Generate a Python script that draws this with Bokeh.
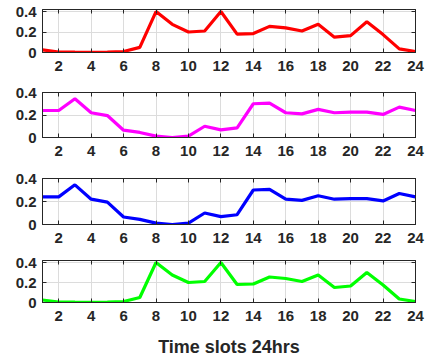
from bokeh.plotting import figure
from bokeh.layouts import column
from bokeh.models import FixedTicker, Range1d, LinearAxis
from bokeh.embed import file_html
from bokeh.resources import INLINE

hours = list(range(1, 25))
x_ticks = list(range(2, 25, 2))
y_ticks = [0, 0.2, 0.4]
y_tick_labels = ["0", "0.2", "0.4"]

series_a = [0.025, 0.005, 0.003, 0.002, 0.005, 0.01, 0.05, 0.40, 0.275, 0.20,
            0.21, 0.40, 0.18, 0.185, 0.255, 0.24, 0.21, 0.275, 0.15, 0.165,
            0.30, 0.175, 0.035, 0.01]
series_b = [0.24, 0.24, 0.345, 0.22, 0.195, 0.065, 0.045, 0.012, 0.0, 0.012,
            0.10, 0.068, 0.085, 0.30, 0.305, 0.22, 0.21, 0.25, 0.22, 0.225,
            0.225, 0.205, 0.27, 0.24]

panels = [
    (series_a, "#ff0000", 0.42),
    (series_b, "#ff00ff", 0.40),
    (series_b, "#0000ff", 0.40),
    (series_a, "#00ff00", 0.42),
]
frame_h = [43, 45, 46, 42]
tops = [9, 8, 9, 6]
bottoms = [32, 32, 30, 56]

TXT = "#262626"
FONT = "Liberation Sans"


def style_ticks(ax):
    ax.major_tick_in = 4
    ax.major_tick_out = 0
    ax.minor_tick_in = 0
    ax.minor_tick_out = 0
    ax.major_tick_line_color = TXT
    ax.axis_line_color = TXT


figs = []
for i, (ys, col, ymax) in enumerate(panels):
    p = figure(frame_width=373, frame_height=frame_h[i], output_backend="svg",
               toolbar_location=None, min_border_left=42, min_border_right=12,
               min_border_top=tops[i], min_border_bottom=bottoms[i],
               x_range=Range1d(1, 24), y_range=Range1d(0, ymax))
    p.line(hours, ys, line_color=col, line_width=3.2)
    p.outline_line_color = TXT
    p.outline_line_width = 1
    p.outline_line_alpha = 1
    bx = p.xaxis[0]
    ly = p.yaxis[0]
    bx.ticker = FixedTicker(ticks=x_ticks)
    ly.ticker = FixedTicker(ticks=y_ticks)
    ly.major_label_overrides = {v: s for v, s in zip(y_ticks, y_tick_labels)}
    for ax in (bx, ly):
        style_ticks(ax)
        ax.major_label_text_font = FONT
        ax.major_label_text_font_style = "bold"
        ax.major_label_text_font_size = "15px"
        ax.major_label_text_color = TXT
    ly.major_label_standoff = 6
    bx.major_label_standoff = 8
    if i == 3:
        bx.axis_label = "Time slots 24hrs"
        bx.axis_label_text_font = FONT
        bx.axis_label_text_font_style = "bold"
        bx.axis_label_text_font_size = "18px"
        bx.axis_label_text_color = TXT
        bx.axis_label_standoff = 13
    # mirrored inward ticks on top and right (box on)
    top_ax = LinearAxis(ticker=FixedTicker(ticks=x_ticks),
                        major_label_overrides={t: "" for t in x_ticks},
                        major_label_text_font_size="0px", major_label_standoff=0)
    right_ax = LinearAxis(ticker=FixedTicker(ticks=y_ticks),
                          major_label_overrides={t: "" for t in y_ticks},
                          major_label_text_font_size="0px", major_label_standoff=0)
    style_ticks(top_ax)
    style_ticks(right_ax)
    p.add_layout(top_ax, "above")
    p.add_layout(right_ax, "right")
    p.xgrid.ticker = FixedTicker(ticks=x_ticks)
    p.ygrid.ticker = FixedTicker(ticks=y_ticks)
    p.grid.grid_line_color = "#dcdcdc"
    p.grid.grid_line_width = 1
    p.background_fill_color = "white"
    p.border_fill_color = "white"
    figs.append(p)

layout = column(*figs, spacing=0)
open("out.html", "w").write(file_html(layout, INLINE))
